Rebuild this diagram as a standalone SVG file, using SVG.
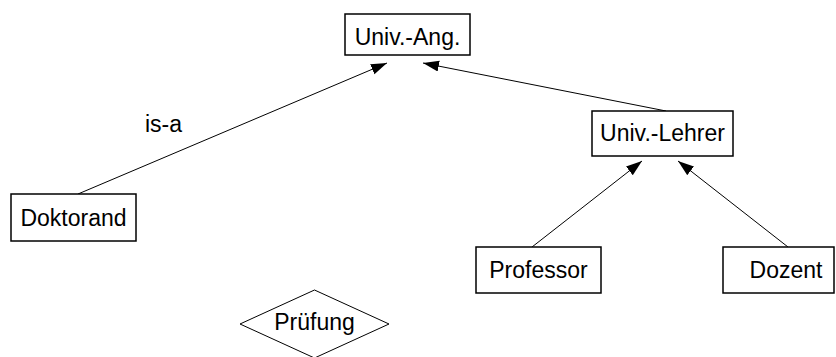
<svg xmlns="http://www.w3.org/2000/svg" width="836" height="357" viewBox="0 0 836 357">
<style>
.box{fill:#fff;stroke:#000;stroke-width:1.5}
.lbl{font-family:"Liberation Sans",Arial,sans-serif;font-size:23px;fill:#000;text-anchor:middle}
.edge{stroke:#000;stroke-width:1;fill:none;marker-end:url(#arr)}
</style>
<defs>
<marker id="arr" markerUnits="userSpaceOnUse" markerWidth="16" markerHeight="12" refX="16" refY="5.5" orient="auto">
<path d="M0,0 L16,5.5 L0,11 z" fill="#000"/>
</marker>
</defs>
<rect width="836" height="357" fill="#fff"/>
<g id="connectors">
<line class="edge" x1="78" y1="194" x2="387" y2="63"/>
<line class="edge" x1="666" y1="111" x2="423" y2="63"/>
<line class="edge" x1="532" y1="247" x2="642" y2="161"/>
<line class="edge" x1="788" y1="247" x2="678" y2="161"/>
<text class="lbl" x="163.5" y="132">is-a</text>
</g>
<g id="univ-ang">
<rect class="box" x="345" y="14" width="125" height="41"/>
<text class="lbl" x="407.5" y="45">Univ.-Ang.</text>
</g>
<g id="univ-lehrer">
<rect class="box" x="592" y="111" width="141" height="45"/>
<text class="lbl" x="662.5" y="141">Univ.-Lehrer</text>
</g>
<g id="doktorand">
<rect class="box" x="11" y="194" width="125" height="47"/>
<text class="lbl" x="73.5" y="226">Doktorand</text>
</g>
<g id="professor">
<rect class="box" x="476" y="247" width="125" height="46"/>
<text class="lbl" x="538.5" y="278">Professor</text>
</g>
<g id="dozent">
<rect class="box" x="723" y="247" width="111" height="46"/>
<text class="lbl" x="786" y="278">Dozent</text>
</g>
<g id="pruefung">
<polygon class="box" style="stroke-width:1" points="314.5,290 389,324 314.5,358 240,324"/>
<text class="lbl" x="314.5" y="330">Prüfung</text>
</g>
</svg>
